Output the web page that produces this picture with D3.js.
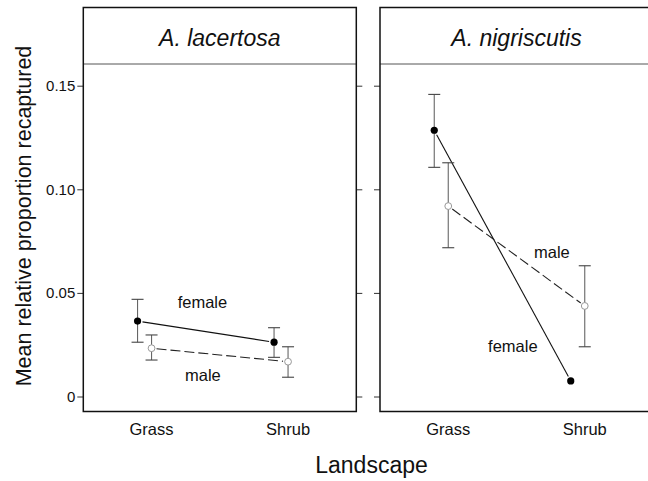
<!DOCTYPE html>
<html>
<head>
<meta charset="utf-8">
<script src="https://cdn.jsdelivr.net/npm/d3@7"></script>
<style>
  body { margin: 0; background: #fff; }
  svg { display: block; font-family: "Liberation Sans", Arial, sans-serif; }
</style>
</head>
<body>
<div id="chart"></div>
<script>
// data
const species    = ["A. lacertosa", "A. nigriscutis"];
const landscapes = ["Grass", "Shrub"];
const yTicks     = [0, 0.05, 0.10, 0.15];
const yTickText  = ["0", "0.05", "0.10", "0.15"];

// mean / lower / upper per species, in landscape order
const femaleMean = [[0.0364, 0.0262], [0.1285, 0.0075]];
const femaleLo   = [[0.0262, 0.0189], [0.1106, null]];
const femaleHi   = [[0.0469, 0.0332], [0.1458, null]];
const maleMean   = [[0.0233, 0.0168], [0.0919, 0.0437]];
const maleLo     = [[0.0176, 0.0093], [0.0718, 0.0240]];
const maleHi     = [[0.0297, 0.0240], [0.1128, 0.0631]];

// in-panel labels: fraction of the way Grass->Shrub, and value at baseline
const labelText = [["female", "male"], ["male", "female"]];
const labelPos  = [[0.373, 0.376], [0.759, 0.473]];
const labelVal  = [[0.0427, 0.0075], [0.0668, 0.0215]];

/*******************************************************************
 * layout
 *******************************************************************/
const W = 648, H = 481;
const panelW = 273, panelTop = 7.5, panelBottom = 411.5, stripH = 56.5;
const panelX = [83.3, 380];
const dodge = -14;

const svg = d3.select("#chart").append("svg").attr("width", W).attr("height", H);

const y = d3.scaleLinear().domain([0, 0.15]).range([396.5, 85.7]);
const x = d3.scalePoint().domain(landscapes).range([0, panelW]).padding(0.5);

function gapLine(g, x1, y1, x2, y2, gap, attrs) {
  const dx = x2 - x1, dy = y2 - y1, len = Math.hypot(dx, dy);
  const ux = dx / len, uy = dy / len;
  const l = g.append("line")
    .attr("x1", x1 + ux * gap).attr("y1", y1 + uy * gap)
    .attr("x2", x2 - ux * gap).attr("y2", y2 - uy * gap);
  Object.entries(attrs).forEach(([k, v]) => l.attr(k, v));
}

function errBar(g, cx, lo, hi) {
  if (lo == null || hi == null) return;
  const cap = 6;
  g.append("line").attr("x1", cx).attr("x2", cx).attr("y1", y(hi)).attr("y2", y(lo))
    .attr("stroke", "#666").attr("stroke-width", 1.1);
  [lo, hi].forEach(v => g.append("line")
    .attr("x1", cx - cap).attr("x2", cx + cap).attr("y1", y(v)).attr("y2", y(v))
    .attr("stroke", "#444").attr("stroke-width", 1.1));
}

species.forEach((name, i) => {
  const g = svg.append("g").attr("transform", `translate(${panelX[i]},0)`);

  // ticks outside the panel on both sides
  const left = d3.axisLeft(y).tickValues(yTicks).tickSize(6).tickPadding(2)
    .tickFormat((d, k) => i === 0 ? yTickText[k] : "");
  const la = g.append("g").call(left);
  la.select(".domain").remove();
  la.selectAll("line").attr("stroke", "#333");
  la.selectAll("text").attr("font-size", 15).attr("fill", "#111")
    .attr("font-family", "'Liberation Sans', Arial, sans-serif");

  const right = d3.axisRight(y).tickValues(yTicks).tickSize(6).tickFormat("");
  const ra = g.append("g").attr("transform", `translate(${panelW},0)`).call(right);
  ra.select(".domain").remove();
  ra.selectAll("line").attr("stroke", "#333");

  // strip
  g.append("line").attr("x1", 0).attr("x2", panelW)
    .attr("y1", panelTop + stripH).attr("y2", panelTop + stripH)
    .attr("stroke", "#555").attr("stroke-width", 1);
  g.append("text").attr("x", panelW / 2).attr("y", 46)
    .attr("text-anchor", "middle").attr("font-size", 23).attr("font-style", "italic")
    .attr("fill", "#111").text(name);

  // panel frame
  g.append("rect").attr("x", 0).attr("y", panelTop)
    .attr("width", panelW).attr("height", panelBottom - panelTop)
    .attr("fill", "none").attr("stroke", "#111").attr("stroke-width", 1.5);

  // x labels
  landscapes.forEach(l => g.append("text")
    .attr("x", x(l)).attr("y", 435).attr("text-anchor", "middle")
    .attr("font-size", 16.5).attr("fill", "#111").text(l));

  // female: solid line, filled points
  const fx = landscapes.map(l => x(l) + dodge);
  const mx = landscapes.map(l => x(l));
  gapLine(g, fx[0], y(femaleMean[i][0]), fx[1], y(femaleMean[i][1]), 5,
    { stroke: "#111", "stroke-width": 1.1 });
  gapLine(g, mx[0], y(maleMean[i][0]), mx[1], y(maleMean[i][1]), 5,
    { stroke: "#222", "stroke-width": 1.1, "stroke-dasharray": "10,4" });

  landscapes.forEach((l, k) => {
    errBar(g, fx[k], femaleLo[i][k], femaleHi[i][k]);
    errBar(g, mx[k], maleLo[i][k], maleHi[i][k]);
  });
  landscapes.forEach((l, k) => {
    g.append("circle").attr("cx", fx[k]).attr("cy", y(femaleMean[i][k])).attr("r", 3.6)
      .attr("fill", "#000");
    g.append("circle").attr("cx", mx[k]).attr("cy", y(maleMean[i][k])).attr("r", 3.4)
      .attr("fill", "#fff").attr("stroke", "#999").attr("stroke-width", 1);
  });

  labelText[i].forEach((t, k) => {
    const lx = x("Grass") + labelPos[i][k] * (x("Shrub") - x("Grass"));
    g.append("text").attr("x", lx).attr("y", y(labelVal[i][k]))
      .attr("text-anchor", "middle").attr("font-size", 16.5).attr("fill", "#111").text(t);
  });
});

// axis titles
svg.append("text").attr("transform", "translate(31,216) rotate(-90)")
  .attr("text-anchor", "middle").attr("font-size", 21.5).attr("fill", "#111")
  .text("Mean relative proportion recaptured");
svg.append("text").attr("x", 371.5).attr("y", 473)
  .attr("text-anchor", "middle").attr("font-size", 23).attr("fill", "#111")
  .text("Landscape");
</script>
</body>
</html>
